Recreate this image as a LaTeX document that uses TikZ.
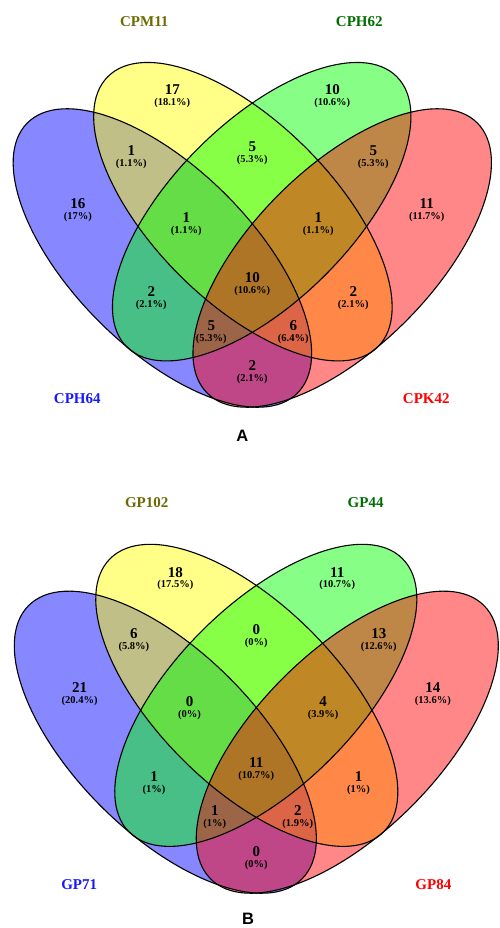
\documentclass[tikz,border=0pt]{standalone}
\usepackage{fontspec}
\setmainfont{Liberation Serif}
\newfontfamily\sansbold{Liberation Sans}
\definecolor{vblue}{RGB}{0,0,255}
\definecolor{vyellow}{RGB}{255,255,0}
\definecolor{vgreen}{RGB}{0,255,0}
\definecolor{vred}{RGB}{255,0,0}
\definecolor{nameA}{RGB}{25,25,255}
\definecolor{nameB}{RGB}{110,105,0}
\definecolor{nameC}{RGB}{0,110,0}
\definecolor{nameD}{RGB}{255,0,0}
\tikzset{
  vfill/.style={fill opacity=0.47},
  vline/.style={draw=black, line width=1.1pt},
  num/.style={inner sep=0pt, font=\fontsize{15}{15}\selectfont\bfseries},
  pct/.style={inner sep=0pt, font=\fontsize{10.5}{10.5}\selectfont\bfseries},
  setname/.style={inner sep=0pt, font=\fontsize{15}{15}\selectfont\bfseries},
  panel/.style={inner sep=0pt, font=\fontsize{16.5}{16.5}\selectfont\sansbold\bfseries},
}
\newcommand\ellA{[rotate around={135:(-89.9,0)}] (-89.9,0) ellipse [x radius=191, y radius=89.7]}
\newcommand\ellB{[rotate around={135:(-9.4,46.3)}] (-9.4,46.3) ellipse [x radius=191, y radius=89.7]}
\newcommand\ellC{[rotate around={45:(9.4,46.3)}] (9.4,46.3) ellipse [x radius=191, y radius=89.7]}
\newcommand\ellD{[rotate around={45:(89.9,0)}] (89.9,0) ellipse [x radius=191, y radius=89.7]}
\newcommand\vennshapes{%
  \fill[vblue, vfill] \ellA;
  \fill[vyellow, vfill] \ellB;
  \fill[vgreen, vfill] \ellC;
  \fill[vred, vfill] \ellD;
  \draw[vline] \ellA;
  \draw[vline] \ellB;
  \draw[vline] \ellC;
  \draw[vline] \ellD;
}
\newcommand\reg[5]{%
  \node[num] (#1) at (#2,#3) {#4};
  \node[pct] (#1p) at ([yshift=-13pt]#1.center) {(#5)};
}
\begin{document}
\begin{tikzpicture}[x=1pt,y=1pt]
\useasboundingbox (0,0) rectangle (499,-928);
\fill[white] (0,0) rectangle (499,-928);

% ---------------- Panel A ----------------
\begin{scope}[shift={(252.3,-258)}]
  \vennshapes
  \node[setname, text=nameB] (aNameB) at (-108,236) {CPM11};
  \node[setname, text=nameC] (aNameC) at (107,236) {CPH62};
  \node[setname, text=nameA] (aNameA) at (-175,-140.3) {CPH64};
  \node[setname, text=nameD] (aNameD) at (174,-140.3) {CPK42};
  \reg{aA}{-174.5}{54}{16}{17\%}
  \reg{aB}{-80}{168}{17}{18.1\%}
  \reg{aC}{80}{168}{10}{10.6\%}
  \reg{aD}{174.5}{54}{11}{11.7\%}
  \reg{aAB}{-121}{107}{1}{1.1\%}
  \reg{aBC}{0}{111}{5}{5.3\%}
  \reg{aCD}{121}{107}{5}{5.3\%}
  \reg{aABC}{-66}{40}{1}{1.1\%}
  \reg{aBCD}{66}{40}{1}{1.1\%}
  \reg{aAll}{0}{-20}{10}{10.6\%}
  \reg{aAC}{-101}{-34}{2}{2.1\%}
  \reg{aBD}{101}{-34}{2}{2.1\%}
  \reg{aACD}{-41}{-68}{5}{5.3\%}
  \reg{aABD}{41}{-68}{6}{6.4\%}
  \reg{aAD}{0}{-108}{2}{2.1\%}
\end{scope}
\node[panel] (panelA) at (242.3,-436.3) {A};

% ---------------- Panel B ----------------
\begin{scope}[shift={(256.3,-742.2)}, scale=1.012]
  \vennshapes
  \node[setname, text=nameB] (bNameB) at (-108.3,237) {GP102};
  \node[setname, text=nameC] (bNameC) at (108,237) {GP44};
  \node[setname, text=nameA] (bNameA) at (-175,-141) {GP71};
  \node[setname, text=nameD] (bNameD) at (175,-141) {GP84};
  \reg{bA}{-174.5}{54}{21}{20.4\%}
  \reg{bB}{-80}{168}{18}{17.5\%}
  \reg{bC}{80}{168}{11}{10.7\%}
  \reg{bD}{174.5}{54}{14}{13.6\%}
  \reg{bAB}{-121}{107}{6}{5.8\%}
  \reg{bBC}{0}{111}{0}{0\%}
  \reg{bCD}{121}{107}{13}{12.6\%}
  \reg{bABC}{-66}{40}{0}{0\%}
  \reg{bBCD}{66}{40}{4}{3.9\%}
  \reg{bAll}{0}{-20}{11}{10.7\%}
  \reg{bAC}{-101}{-34}{1}{1\%}
  \reg{bBD}{101}{-34}{1}{1\%}
  \reg{bACD}{-41}{-68}{1}{1\%}
  \reg{bABD}{41}{-68}{2}{1.9\%}
  \reg{bAD}{0}{-108}{0}{0\%}
\end{scope}
\node[panel] (panelB) at (248,-918.5) {B};
\end{tikzpicture}
\end{document}
